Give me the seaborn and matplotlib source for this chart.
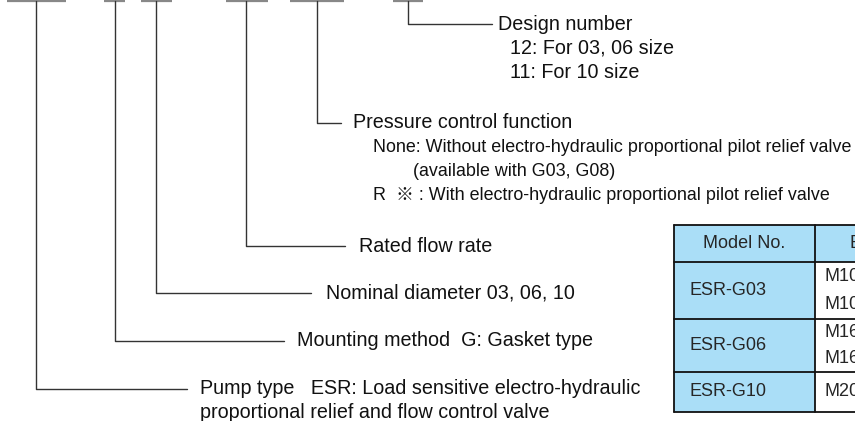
import matplotlib
matplotlib.use("Agg")
import matplotlib.pyplot as plt
import seaborn as sns
from matplotlib.patches import Rectangle

# ---------------------------------------------------------
# data: code segments, leader lines and their labels
# ---------------------------------------------------------
seg_left = [7, 104, 141, 226, 290, 393]
seg_right = [66, 125, 172, 268, 344, 423]
leader_x = [36, 115, 156, 246, 317, 408]
leader_y = [389, 341, 293, 246, 123, 24]
leader_end = [187, 284, 311, 345, 341, 492]
label_x = [200, 297, 326, 359, 353, 498]

labels = [
    "Pump type   ESR: Load sensitive electro-hydraulic",
    "Mounting method  G: Gasket type",
    "Nominal diameter 03, 06, 10",
    "Rated flow rate",
    "Pressure control function",
    "Design number",
]

# extra description lines (x, y, text, condensed?)
sub_x = [200, 373, 413, 373, 510, 510]
sub_y = [412, 147, 171, 195, 48, 73]
sub_text = [
    "proportional relief and flow control valve",
    "None: Without electro-hydraulic proportional pilot relief valve",
    "(available with G03, G08)",
    "R  \u203b : With electro-hydraulic proportional pilot relief valve",
    "12: For 03, 06 size",
    "11: For 10 size",
]
sub_small = [False, True, True, True, False, False]

# table
col_header = ["Model No.", "Eye bolt"]
models = ["ESR-G03", "ESR-G06", "ESR-G10"]
bolts = [["M10", "M10"], ["M16", "M16"], ["M20"]]
row_edges = [225, 262, 319, 372, 412]
col_edges = [674, 815, 1000]

sns.set_theme(style="white")
plt.rcParams["font.family"] = ["Liberation Sans", "DejaVu Sans", "Noto Sans CJK JP"]

fig = plt.figure(figsize=(8.55, 4.21), dpi=100)
ax = fig.add_axes([0, 0, 1, 1])
ax.set_xlim(0, 855)
ax.set_ylim(421, 0)
ax.axis("off")

FS = 14.2      # main labels (look stretched in the original)
FS_SMALL = 12.9
FS_TAB = 13
line_c = "#333333"
txt_c = "#111111"

for l, r in zip(seg_left, seg_right):
    ax.plot([l, r], [0.8, 0.8], color="#888888", lw=1.6, solid_capstyle="butt")

for x, y, e, tx, lab in zip(leader_x, leader_y, leader_end, label_x, labels):
    ax.plot([x, x, e], [0.8, y, y], color=line_c, lw=1.0)
    ax.text(tx, y, lab, fontsize=FS, va="center", ha="left", color=txt_c)

for x, y, t, small in zip(sub_x, sub_y, sub_text, sub_small):
    ax.text(x, y, t, fontsize=FS_SMALL if small else FS, va="center", ha="left",
            color=txt_c, family=["Liberation Sans", "Noto Sans CJK JP", "DejaVu Sans"])

# table drawing
blue = "#aadef7"
ax.add_patch(Rectangle((col_edges[0], row_edges[0]), col_edges[2] - col_edges[0],
                       row_edges[1] - row_edges[0], facecolor=blue, edgecolor="none"))
ax.add_patch(Rectangle((col_edges[0], row_edges[1]), col_edges[1] - col_edges[0],
                       row_edges[-1] - row_edges[1], facecolor=blue, edgecolor="none"))
for y in row_edges:
    ax.plot([col_edges[0], col_edges[2]], [y, y], color="#111111", lw=1.3)
for x in col_edges[:2]:
    ax.plot([x, x], [row_edges[0], row_edges[-1]], color="#111111", lw=1.3)

ax.text((col_edges[0] + col_edges[1]) / 2, (row_edges[0] + row_edges[1]) / 2,
        col_header[0], fontsize=FS_TAB, ha="center", va="center")
ax.text(col_edges[1] + 35, (row_edges[0] + row_edges[1]) / 2,
        col_header[1], fontsize=FS_TAB, ha="left", va="center")
for i, m in enumerate(models):
    top, bot = row_edges[i + 1], row_edges[i + 2]
    ax.text(col_edges[0] + 15, (top + bot) / 2, m, fontsize=FS_TAB, ha="left", va="center")
    n = len(bolts[i])
    for j, b in enumerate(bolts[i]):
        yy = top + (bot - top) * (j + 0.5) / n
        ax.text(col_edges[1] + 9, yy, b, fontsize=FS_TAB, ha="left", va="center")

plt.savefig("out.png", dpi=100)
